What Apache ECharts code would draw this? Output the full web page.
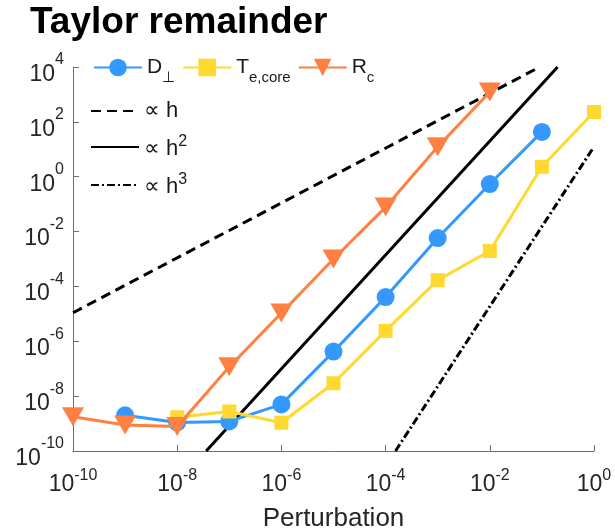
<!DOCTYPE html>
<html>
<head>
<meta charset="utf-8">
<script src="https://cdn.jsdelivr.net/npm/echarts@6/dist/echarts.min.js"></script>
<style>html,body{margin:0;padding:0;background:#fff}#c{width:615px;height:531px}</style>
</head>
<body>
<div id="c"></div>
<script>
// ---- data (log-log plot) ----
const hD = [1e-9, 1e-8, 1e-7, 1e-6, 1e-5, 1e-4, 1e-3, 1e-2, 1e-1];
const valD = [2.0e-9, 1.1e-9, 1.2e-9, 5.0e-9, 4.2e-7, 4.1e-5, 5.8e-3, 0.54, 43];

const hT = [1e-8, 1e-7, 1e-6, 1e-5, 1e-4, 1e-3, 1e-2, 1e-1, 1e0];
const valT = [1.7e-9, 2.75e-9, 1.07e-9, 2.95e-8, 2.4e-6, 1.7e-4, 1.95e-3, 2.3, 229];

const hR = [1e-10, 1e-9, 1e-8, 1e-7, 1e-6, 1e-5, 1e-4, 1e-3, 1e-2];
const valR = [1.78e-9, 8.9e-10, 7.8e-10, 1.17e-7, 1.07e-5, 1.0e-3, 0.078, 12.3, 1230];

// reference slope lines: endpoints
const hLin = [1e-10, 0.087];   const valLin = [1.1e-5, 9.6e3];
const hQuad = [3.6e-8, 0.2];   const valQuad = [1e-10, 1e4];
const hCub = [1.55e-4, 0.95];  const valCub = [1e-10, 10.7];

const xExpRange = [-10, 0];
const yExpRange = [-10, 4];
const tickStep = 2;

const legendLabels = {
  D: '{m|D}{sub|⊥}',
  T: '{m|T}{sub|e,core}',
  R: '{m|R}{sub|c}',
  lin: '{m2|∝ h}',
  quad: '{m3|∝ h}{sup|2}',
  cub: '{m3|∝ h}{sup|3}'
};

const colors = { D: '#3399ff', T: '#ffd92f', R: '#ff8040' };
const FONT = 'Liberation Sans, Arial, Helvetica, sans-serif';

function toLog(xs, ys) { return xs.map((x, i) => [Math.log10(x), Math.log10(ys[i])]); }

const powRichX = {
  b: { fontSize: 23, fontFamily: FONT, color: '#262626', verticalAlign: 'bottom' },
  s: { fontSize: 16, fontFamily: FONT, color: '#262626', verticalAlign: 'top', padding: [0, 0, 12, 0] }
};
const powRichY = {
  b: { fontSize: 23, fontFamily: FONT, color: '#262626', verticalAlign: 'bottom' },
  s: { fontSize: 16, fontFamily: FONT, color: '#262626', verticalAlign: 'top', padding: [4, 0, 18, 0] }
};
const powFmt = v => '{b|10}{s|' + Math.round(v) + '}';

const axisCommon = {
  type: 'value',
  interval: tickStep,
  splitLine: { show: false },
  axisLine: { show: true, onZero: false, lineStyle: { color: '#6e6e6e', width: 1 } },
  axisTick: { show: true, inside: true, length: 6, lineStyle: { color: '#6e6e6e', width: 1 } },
};

const chart = echarts.init(document.getElementById('c'), null, { renderer: 'canvas' });

const option = {
  animation: false,
  backgroundColor: '#fff',
  title: {
    text: 'Taylor remainder', left: 30, top: 4, padding: 0,
    textStyle: { fontSize: 37, fontWeight: 'bold', color: '#000', fontFamily: FONT }
  },
  grid: { left: 73, right: 21, top: 67, bottom: 80, containLabel: false, outerBoundsMode: 'none' },
  xAxis: Object.assign({}, axisCommon, {
    min: xExpRange[0], max: xExpRange[1],
    axisLabel: { margin: 17, formatter: powFmt, rich: powRichX },
    name: 'Perturbation', nameLocation: 'middle', nameGap: 55,
    nameTextStyle: { fontSize: 26, color: '#262626', fontFamily: FONT }
  }),
  yAxis: Object.assign({}, axisCommon, {
    min: yExpRange[0], max: yExpRange[1],
    axisLabel: { margin: 9, formatter: powFmt, rich: powRichY }
  }),
  legend: [
    {
      data: ['D', 'T', 'R'], orient: 'horizontal', left: 93, top: 57, padding: 0,
      itemWidth: 48, itemHeight: 22, itemGap: 7, selectedMode: false,
      formatter: n => legendLabels[n],
      textStyle: {
        fontSize: 21, color: '#1a1a1a', fontFamily: FONT,
        rich: {
          m: { fontSize: 21, fontFamily: FONT, color: '#1a1a1a' },
          sub: { fontSize: 15, fontFamily: FONT, color: '#1a1a1a', padding: [20, 0, 0, 0] }
        }
      }
    },
    {
      data: ['lin', 'quad', 'cub'], orient: 'vertical', left: 90, top: 100, padding: 0,
      itemWidth: 48, itemHeight: 14, itemGap: 12, selectedMode: false,
      itemStyle: { color: 'rgba(0,0,0,0)', borderColor: 'rgba(0,0,0,0)', borderWidth: 0 },
      formatter: n => legendLabels[n],
      textStyle: {
        fontSize: 22, color: '#1a1a1a', fontFamily: FONT,
        rich: {
          m2: { fontSize: 22, fontFamily: FONT, color: '#1a1a1a' },
          m3: { fontSize: 22, fontFamily: FONT, color: '#1a1a1a', verticalAlign: 'bottom' },
          sup: { fontSize: 16, fontFamily: FONT, color: '#1a1a1a', verticalAlign: 'top', padding: [0, 0, 10, 0] }
        }
      }
    }
  ],
  series: [
    { name: 'lin', type: 'line', data: toLog(hLin, valLin), symbol: 'none', color: '#000',
      lineStyle: { color: '#000', width: 3, type: [10, 6] }, z: 1 },
    { name: 'quad', type: 'line', data: toLog(hQuad, valQuad), symbol: 'none', color: '#000',
      lineStyle: { color: '#000', width: 3, type: 'solid' }, z: 1 },
    { name: 'cub', type: 'line', data: toLog(hCub, valCub), symbol: 'none', color: '#000',
      lineStyle: { color: '#000', width: 3, type: [8, 3, 2, 3] }, z: 1 },
    { name: 'D', type: 'line', data: toLog(hD, valD), symbol: 'circle', symbolSize: 18,
      color: colors.D, lineStyle: { color: colors.D, width: 3 }, itemStyle: { color: colors.D }, z: 2 },
    { name: 'T', type: 'line', data: toLog(hT, valT), symbol: 'rect', symbolSize: 14,
      color: colors.T, lineStyle: { color: colors.T, width: 3 }, itemStyle: { color: colors.T }, z: 3 },
    { name: 'R', type: 'line', data: toLog(hR, valR), symbol: 'triangle', symbolRotate: 180, symbolSize: [22, 19],
      color: colors.R, lineStyle: { color: colors.R, width: 3 }, itemStyle: { color: colors.R }, z: 4 }
  ]
};
chart.setOption(option);
</script>
</body>
</html>
